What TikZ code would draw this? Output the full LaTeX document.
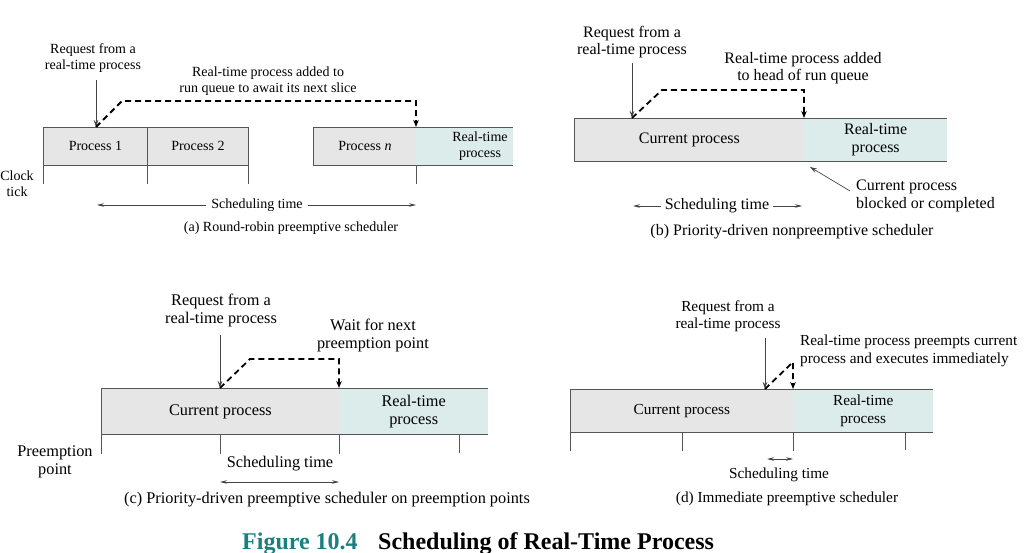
\documentclass[tikz,border=0pt]{standalone}
\usepackage{fontspec}
\setmainfont{Liberation Serif}
\usetikzlibrary{arrows.meta}
\definecolor{cellgray}{HTML}{E6E6E6}
\definecolor{rtfill}{HTML}{DCECEA}
\definecolor{boxline}{HTML}{555555}
\definecolor{arrgray}{HTML}{444444}
\definecolor{figteal}{HTML}{1B7F80}
\newcommand\fA{\fontsize{14}{16}\selectfont}
\newcommand\fB{\fontsize{16}{17.5}\selectfont}
\newcommand\fC{\fontsize{16.3}{18}\selectfont}
\newcommand\fD{\fontsize{15.3}{17.5}\selectfont}
\newcommand\fT{\fontsize{24}{28}\selectfont\bfseries}
\tikzset{
  lbl/.style={align=center, inner sep=1pt},
  cell/.style={draw=boxline, fill=cellgray, line width=0.8pt, anchor=north west, inner sep=0pt, align=center},
  rtcell/.style={fill=rtfill, anchor=north west, inner sep=0pt, align=center},
  edgeline/.style={draw=boxline, line width=0.8pt},
  tickline/.style={draw=boxline, line width=0.8pt},
  reqarrow/.style={draw=arrgray, line width=0.7pt, -{Stealth[length=7pt,width=4.5pt]}},
  dasharrow/.style={draw=black, line width=1.8pt, dash pattern=on 6pt off 4pt, -{Stealth[length=7pt,width=5.5pt]}},
  schedarrow/.style={draw=arrgray, line width=0.7pt, -{Stealth[length=7pt,width=3.5pt]}},
  schedboth/.style={draw=arrgray, line width=0.7pt, {Stealth[length=7pt,width=3.5pt]}-{Stealth[length=7pt,width=3.5pt]}},
  schedlbl/.style={inner xsep=5pt, inner ysep=1pt}
}
\begin{document}
\begin{tikzpicture}[x=1pt, y=-1pt]
\useasboundingbox (0,0) rectangle (1025,553);
% ================= (a) =================
\begin{scope}[font=\fA]
\node[lbl] (reqa) at (93,58) {Request from a\\real-time process};
\node[lbl] (adda) at (268,81) {Real-time process added to\\run queue to await its next slice};
\node[cell, minimum width=104, minimum height=38] (p1) at (43,127) {Process 1};
\node[cell, minimum width=101, minimum height=38] (p2) at (147,127) {Process 2};
\node[cell, minimum width=103, minimum height=38] (pn) at (313,127) {Process \textit{n}};
\node[rtcell, minimum width=97, minimum height=38] (rta) at (416,127) {};
\node[lbl] (rtatxt) at (480,146) {Real-time\\process};
\draw[edgeline] (rta.north west) -- (rta.north east);
\draw[edgeline] (rta.south west) -- (rta.south east);
\draw[tickline] (p1.south west) -- ++(0,18);
\draw[tickline] (p1.south east) -- ++(0,18);
\draw[tickline] (p2.south east) -- ++(0,18);
\draw[tickline] (pn.south east) -- ++(0,18);
\coordinate (ra) at (96,127);
\draw[reqarrow] (ra |- 0,80) -- (ra);
\draw[dasharrow] (ra) -- (122,101) -- (rta.north west |- 0,101) -- (rta.north west);
\node[lbl] (clk) at (17,184) {Clock\\tick};
\node[schedlbl] (sta) at (257,205) {Scheduling time};
\coordinate (sa1) at (97,205);
\coordinate (sa2) at (416,205);
\draw[schedarrow] (sta.west) -- (sa1);
\draw[schedarrow] (sta.east) -- (sa2);
\node[lbl] (capa) at (291,228) {(a) Round-robin preemptive scheduler};
\end{scope}
% ================= (b) =================
\begin{scope}[font=\fB]
\node[lbl] (reqb) at (632,42) {Request from a\\real-time process};
\node[lbl] (addb) at (803,68) {Real-time process added\\to head of run queue};
\node[cell, minimum width=230, minimum height=43] (curb) at (574,118) {Current process};
\node[rtcell, minimum width=143, minimum height=43] (rtb) at (804,118) {Real-time\\process};
\draw[edgeline] (rtb.north west) -- (rtb.north east);
\draw[edgeline] (rtb.south west) -- (rtb.south east);
\coordinate (rb) at (632,118);
\draw[reqarrow] (rb |- 0,63) -- (rb);
\draw[dasharrow] (rb) -- (662,90) -- (rtb.north west |- 0,90) -- (rtb.north west);
\node[lbl, anchor=west, align=left] (blk) at (855,196) {Current process\\blocked or completed};
\coordinate (bk1) at (850,191);
\coordinate (bk2) at (810,167);
\draw[reqarrow] (bk1) -- (bk2);
\node[inner xsep=4pt, inner ysep=1pt] (stb) at (717,206) {Scheduling time};
\coordinate (sb1) at (633,206);
\coordinate (sb2) at (802,206);
\draw[schedarrow] (stb.west) -- (sb1);
\draw[schedarrow] (stb.east) -- (sb2);
\node[lbl] (capb) at (792,232) {(b) Priority-driven nonpreemptive scheduler};
\end{scope}
% ================= (c) =================
\begin{scope}[font=\fC]
\node[lbl] (reqc) at (221,310) {Request from a\\real-time process};
\node[lbl] (waitc) at (373,335) {Wait for next\\preemption point};
\node[cell, minimum width=238, minimum height=46] (curc) at (101,388) {Current process};
\node[rtcell, minimum width=149, minimum height=46] (rtc) at (339,388) {Real-time\\process};
\draw[edgeline] (rtc.north west) -- (rtc.north east);
\draw[edgeline] (rtc.south west) -- (rtc.south east);
\coordinate (rc) at (220,388);
\draw[tickline] (curc.south west) -- ++(0,19);
\draw[tickline] (curc.south west -| rc) -- ++(0,19);
\draw[tickline] (curc.south east) -- ++(0,19);
\draw[tickline] (rtc.south west -| 459,0) -- ++(0,19);
\draw[reqarrow] (rc |- 0,335) -- (rc);
\draw[dasharrow] (rc) -- (250,359) -- (rtc.north west |- 0,359) -- (rtc.north west);
\node[lbl] (ppc) at (55,462) {Preemption\\point};
\node[lbl] (stc) at (280,464) {Scheduling time};
\coordinate (sc1) at (220,482);
\coordinate (sc2) at (339,482);
\draw[schedboth] (sc1) -- (sc2);
\node[lbl] (capc) at (327,500) {(c) Priority-driven preemptive scheduler on preemption points};
\end{scope}
% ================= (d) =================
\begin{scope}[font=\fD]
\node[lbl] (reqd) at (728,316) {Request from a\\real-time process};
\node[lbl, anchor=west, align=left] (prd) at (799,351) {Real-time process preempts current\\process and executes immediately};
\node[cell, minimum width=223, minimum height=43] (curd) at (570,389) {Current process};
\node[rtcell, minimum width=140, minimum height=43] (rtd) at (793,389) {Real-time\\process};
\draw[edgeline] (rtd.north west) -- (rtd.north east);
\draw[edgeline] (rtd.south west) -- (rtd.south east);
\coordinate (rd) at (765,389);
\draw[tickline] (curd.south west) -- ++(0,18);
\draw[tickline] (curd.south west -| 682,0) -- ++(0,18);
\draw[tickline] (curd.south east) -- ++(0,18);
\draw[tickline] (rtd.south west -| 905,0) -- ++(0,18);
\draw[reqarrow] (rd |- 0,338) -- (rd);
\draw[dasharrow] (rd) -- (rtd.north west |- 0,362) -- (rtd.north west);
\coordinate (sd1) at (767,459);
\coordinate (sd2) at (793,459);
\draw[schedboth] (sd1) -- (sd2);
\node[lbl] (std) at (779,475) {Scheduling time};
\node[lbl] (capd) at (787,499) {(d) Immediate preemptive scheduler};
\end{scope}
% ================= title =================
\node[anchor=base west, font=\fT, text=figteal, inner sep=0pt] (ft) at (242,549) {Figure 10.4};
\node[anchor=base west, font=\fT, inner sep=0pt] (tt) at (378,549) {Scheduling of Real-Time Process};
\end{tikzpicture}
\end{document}
